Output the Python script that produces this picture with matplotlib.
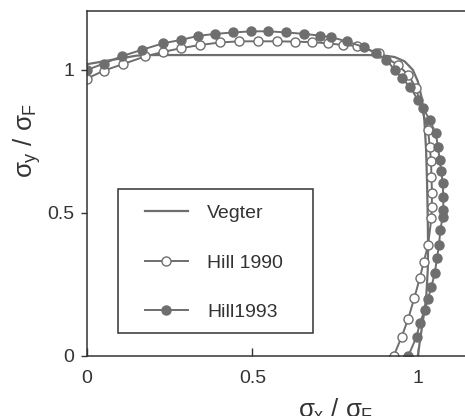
import matplotlib
matplotlib.use("Agg")
import matplotlib.pyplot as plt
from matplotlib.patches import Rectangle

plt.rcParams['font.family'] = ['Liberation Sans', 'DejaVu Sans']
plt.rcParams['mathtext.fontset'] = 'custom'
plt.rcParams['mathtext.rm'] = 'Liberation Sans'
plt.rcParams['mathtext.it'] = 'Liberation Sans'

# yield loci (sigma_x/sigma_F, sigma_y/sigma_F)
vegter_x = [0.0, 0.05, 0.10, 0.15, 0.20, 0.50, 0.85, 0.90, 0.93, 0.96, 0.985, 1.0, 1.012,
            1.02, 1.025, 1.028, 1.03, 1.031, 1.03, 1.025, 1.015, 1.006, 1.0]
vegter_y = [1.02, 1.03, 1.04, 1.05, 1.052, 1.052, 1.052, 1.05, 1.045, 1.03, 1.0, 0.96, 0.9,
            0.82, 0.72, 0.6, 0.48, 0.38, 0.3, 0.2, 0.12, 0.05, 0.0]

hill90_x = [0.0, 0.052, 0.108, 0.175, 0.23, 0.284, 0.341, 0.402, 0.46, 0.516, 0.573, 0.628,
            0.679, 0.729, 0.774, 0.817, 0.883, 0.94, 0.971, 0.994, 1.031, 1.036, 1.04, 1.041,
            1.043, 1.042, 1.041, 1.031, 1.018, 1.006, 0.989, 0.971, 0.951, 0.927]
hill90_y = [0.97, 0.998, 1.02, 1.047, 1.063, 1.076, 1.087, 1.096, 1.10, 1.10, 1.10, 1.099,
            1.097, 1.093, 1.087, 1.084, 1.058, 1.017, 0.983, 0.938, 0.79, 0.732, 0.68, 0.627,
            0.569, 0.52, 0.482, 0.388, 0.33, 0.272, 0.202, 0.13, 0.067, 0.0]

hill93_x = [0.0, 0.05, 0.105, 0.165, 0.23, 0.284, 0.336, 0.387, 0.442, 0.497, 0.548, 0.603,
            0.656, 0.704, 0.739, 0.785, 0.836, 0.875, 0.905, 0.93, 0.951, 0.976, 1.0, 1.016,
            1.036, 1.054, 1.061, 1.066, 1.071, 1.075, 1.077, 1.077, 1.075, 1.068, 1.064,
            1.058, 1.051, 1.041, 1.031, 1.021, 1.006, 0.996, 0.971]
hill93_y = [1.0, 1.022, 1.048, 1.07, 1.093, 1.105, 1.119, 1.126, 1.131, 1.135, 1.135, 1.131,
            1.126, 1.12, 1.114, 1.10, 1.08, 1.058, 1.035, 1.0, 0.971, 0.942, 0.895, 0.866,
            0.825, 0.778, 0.732, 0.685, 0.645, 0.604, 0.557, 0.51, 0.487, 0.44, 0.388,
            0.341, 0.289, 0.242, 0.2, 0.161, 0.114, 0.067, 0.0]

gray = '#6e6e6e'
dark = '#333333'

fig = plt.figure(figsize=(4.65, 4.16), dpi=100)
ax = fig.add_axes([87 / 465, 60 / 416, 397 / 465, 345 / 416])

ax.plot(vegter_x, vegter_y, color=gray, lw=1.6, label='Vegter')
ax.plot(hill90_x, hill90_y, color=gray, lw=1.4, marker='o', ms=6.5,
        mfc='white', mec=gray, mew=1.0, label='Hill 1990')
ax.plot(hill93_x, hill93_y, color=gray, lw=1.4, marker='o', ms=6.5,
        mfc=gray, mec=gray, mew=1.0, label='Hill1993')

ax.set_xlim(0, 1.2)
ax.set_ylim(0, 1.206)
ax.set_xticks([0, 0.5, 1])
ax.set_xticklabels(['0', '0.5', '1'])
ax.set_yticks([0, 0.5, 1])
ax.set_yticklabels(['0', '0.5', '1'])
ax.tick_params(width=1, labelsize=14, colors=dark)
ax.tick_params(axis='x', direction='in', length=6, pad=10)
ax.tick_params(axis='y', direction='out', length=4, pad=5)
for s in ax.spines.values():
    s.set_linewidth(1.1)
    s.set_color(dark)

ax.set_xlabel(r'$\sigma_x\ /\ \sigma_F$', fontsize=18.5, color=dark)
ax.xaxis.set_label_coords(0.625, -0.118)
ax.set_ylabel(r'$\sigma_y\ /\ \sigma_F$', fontsize=18.5, color=dark)
ax.yaxis.set_label_coords(-0.112, 0.625)

# legend box drawn separately so its margins match the original
ax.add_patch(Rectangle((0.078, 0.067), 0.491, 0.417, transform=ax.transAxes,
                       fill=True, facecolor='white', edgecolor=dark, lw=1.1, zorder=4))
leg = ax.legend(loc='upper left', bbox_to_anchor=(0.146, 0.44), fontsize=14,
                frameon=False, handlelength=2.2, handletextpad=1.0,
                labelspacing=1.65, borderpad=0, borderaxespad=0)
leg.set_zorder(5)
for t in leg.get_texts():
    t.set_color(dark)

fig.savefig('out.png', dpi=100)
